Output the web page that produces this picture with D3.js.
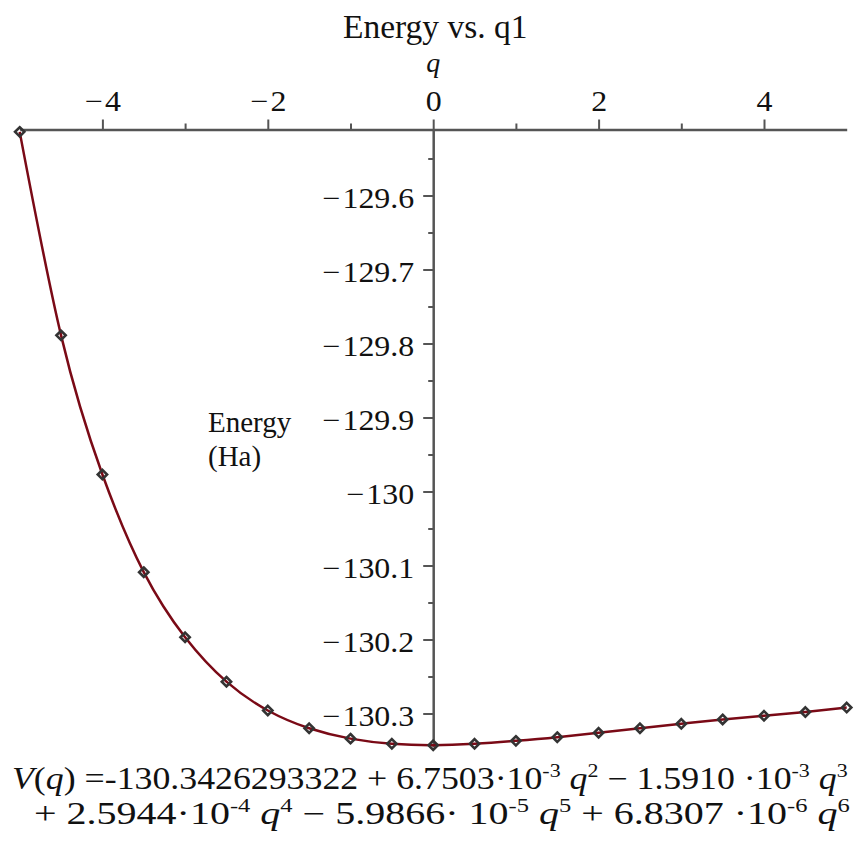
<!DOCTYPE html>
<html>
<head>
<meta charset="utf-8">
<script src="https://cdn.jsdelivr.net/npm/d3@7"></script>
<style>
  html, body { margin: 0; padding: 0; background: #fff; }
  svg { display: block; }
  svg text { font-family: "Liberation Serif", "Times New Roman"; }
  .axis .domain { stroke: #555; stroke-width: 2.5; }
  .axis .tick line { stroke: #555; stroke-width: 2; }
  .axis .tick text { fill: #111; font-size: 29px; }
</style>
</head>
<body>
<svg id="chart" width="855" height="845"></svg>
<script>
// Sample points (q, energy in Ha)
const qValues = [-5, -4.5, -4, -3.5, -3, -2.5, -2, -1.5, -1, -0.5, 0, 0.5, 1, 1.5, 2, 2.5, 3, 3.5, 4, 4.5, 5];
const energyValues = [
  -129.514, -129.789, -129.977, -130.109, -130.197, -130.257, -130.296, -130.320, -130.334, -130.341,
  -130.343, -130.341, -130.337, -130.332, -130.326, -130.320, -130.314, -130.308, -130.303, -130.298, -130.292
];

const xDomain = [-5, 5];
const yDomain = [-130.3453, -129.5108];
const xMajorTicks = [-4, -2, 0, 2, 4];
const xMinorTicks = [-3, -1, 1, 3];
const yMajorTicks = [-129.6, -129.7, -129.8, -129.9, -130, -130.1, -130.2, -130.3];
const yMinorTicks = [-129.55, -129.65, -129.75, -129.85, -129.95, -130.05, -130.15, -130.25];

const titleText = "Energy vs. q1";
const xLabelText = "q";
const yLabelLines = ["Energy", "(Ha)"];

// fitted polynomial, as printed under the plot: [text, style] pieces
const formulaLine1 = [
  ["V", "it"], ["(", ""], ["q", "it"], [") =-130.3426293322 + 6.7503\u00b710", ""], ["-3", "sup"],
  [" ", ""], ["q", "it"], ["2", "sup"], [" \u2212 1.5910 \u00b710", ""], ["-3", "sup"], [" ", ""], ["q", "it"], ["3", "sup"]
];
const formulaLine2 = [
  ["+ 2.5944\u00b710", ""], ["-4", "sup"], [" ", ""], ["q", "it"], ["4", "sup"],
  [" \u2212 5.9866\u00b7 10", ""], ["-5", "sup"], [" ", ""], ["q", "it"], ["5", "sup"],
  [" + 6.8307 \u00b710", ""], ["-6", "sup"], [" ", ""], ["q", "it"], ["6", "sup"]
];

const svg = d3.select("#chart");
const serif = "'Liberation Serif', 'Times New Roman'";
const plot = { left: 19.7, right: 846.7, top: 129.5, bottom: 747 };

const x = d3.scaleLinear().domain(xDomain).range([plot.left, plot.right]);
const y = d3.scaleLinear().domain(yDomain).range([plot.bottom, plot.top]);

const fmt = d3.format("");

// Maple-like tick labels: serif, slightly wide, small gap after the minus sign
function tickLabels(g, dx, dy) {
  g.attr("font-family", serif).attr("font-size", null);
  g.selectAll(".tick text").each(function(d) {
    const t = d3.select(this);
    t.style("font-family", serif)
      .attr("x", 0)
      .attr("y", 0)
      .attr("transform", `translate(${dx},${dy}) scale(1.1,1)`)
      .text(null);
    if (d < 0) t.append("tspan").text("\u2212");
    t.append("tspan").attr("dx", d < 0 ? 2 : 0).text(fmt(Math.abs(d)));
  });
}

// x axis sits on top (largest energy), y axis at q = 0
svg.append("g")
  .attr("class", "axis")
  .attr("transform", `translate(0,${y(yDomain[1])})`)
  .call(d3.axisTop(x).tickValues(xMinorTicks).tickSize(6).tickSizeOuter(0).tickFormat(""))
  .call((g) => g.select(".domain").remove());

svg.append("g")
  .attr("class", "axis")
  .attr("transform", `translate(0,${y(yDomain[1])})`)
  .call(d3.axisTop(x).tickValues(xMajorTicks).tickSize(10).tickSizeOuter(0).tickFormat(fmt))
  .call((g) => tickLabels(g, 0, -19));

svg.append("g")
  .attr("class", "axis")
  .attr("transform", `translate(${x(0)},0)`)
  .call(d3.axisLeft(y).tickValues(yMinorTicks).tickSize(5).tickSizeOuter(0).tickFormat(""))
  .call((g) => g.select(".domain").remove());

svg.append("g")
  .attr("class", "axis")
  .attr("transform", `translate(${x(0)},0)`)
  .call(d3.axisLeft(y).tickValues(yMajorTicks).tickSize(10).tickSizeOuter(0).tickFormat(fmt))
  .call((g) => tickLabels(g, -19, 0))
  .call((g) => g.selectAll(".tick text").attr("dy", "0.42em"));

// curve and sample markers
const points = qValues.map((q, i) => ({ q, e: energyValues[i] }));

svg.append("path")
  .datum(points)
  .attr("fill", "none")
  .attr("stroke", "#7a0a16")
  .attr("stroke-width", 2.5)
  .attr("d", d3.line().x((d) => x(d.q)).y((d) => y(d.e)).curve(d3.curveNatural));

svg.append("g")
  .selectAll("path")
  .data(points)
  .join("path")
  .attr("transform", (d) => `translate(${x(d.q)},${y(d.e)})`)
  .attr("d", d3.symbol(d3.symbolDiamond2, 55))
  .attr("fill", "none")
  .attr("stroke", "#333")
  .attr("stroke-width", 2.6);

// titles
svg.append("text")
  .attr("x", x(0) + 2)
  .attr("y", 38)
  .attr("text-anchor", "middle")
  .attr("font-size", 33.5)
  .attr("fill", "#111")
  .text(titleText);

svg.append("text")
  .attr("x", x(0))
  .attr("y", 72)
  .attr("text-anchor", "middle")
  .attr("font-size", 28)
  .attr("font-style", "italic")
  .attr("fill", "#111")
  .text(xLabelText);

svg.append("text")
  .attr("x", 208)
  .attr("y", 432)
  .attr("font-size", 29)
  .attr("fill", "#111")
  .selectAll("tspan")
  .data(yLabelLines)
  .join("tspan")
  .attr("x", 208)
  .attr("dy", (d, i) => (i === 0 ? 0 : 34))
  .text((d) => d);

// formula, fitted horizontally to the printed width
function drawFormula(pieces, left, baseline, targetWidth) {
  const g = svg.append("g");
  const t = g.append("text")
    .attr("x", 0)
    .attr("y", 0)
    .attr("font-size", 31)
    .attr("fill", "#111");
  let raised = false;
  pieces.forEach(([txt, kind]) => {
    const span = t.append("tspan").text(txt);
    if (kind === "it") span.attr("font-style", "italic");
    if (kind === "sup") {
      span.attr("font-size", 19);
      if (!raised) { span.attr("dy", -12); raised = true; }
    } else if (raised) {
      span.attr("dy", 12);
      raised = false;
    }
  });
  const w = t.node().getComputedTextLength();
  g.attr("transform", `translate(${left},${baseline}) scale(${targetWidth / w},1)`);
}

drawFormula(formulaLine1, 12, 789, 836);
drawFormula(formulaLine2, 34, 824, 816);
</script>
</body>
</html>
